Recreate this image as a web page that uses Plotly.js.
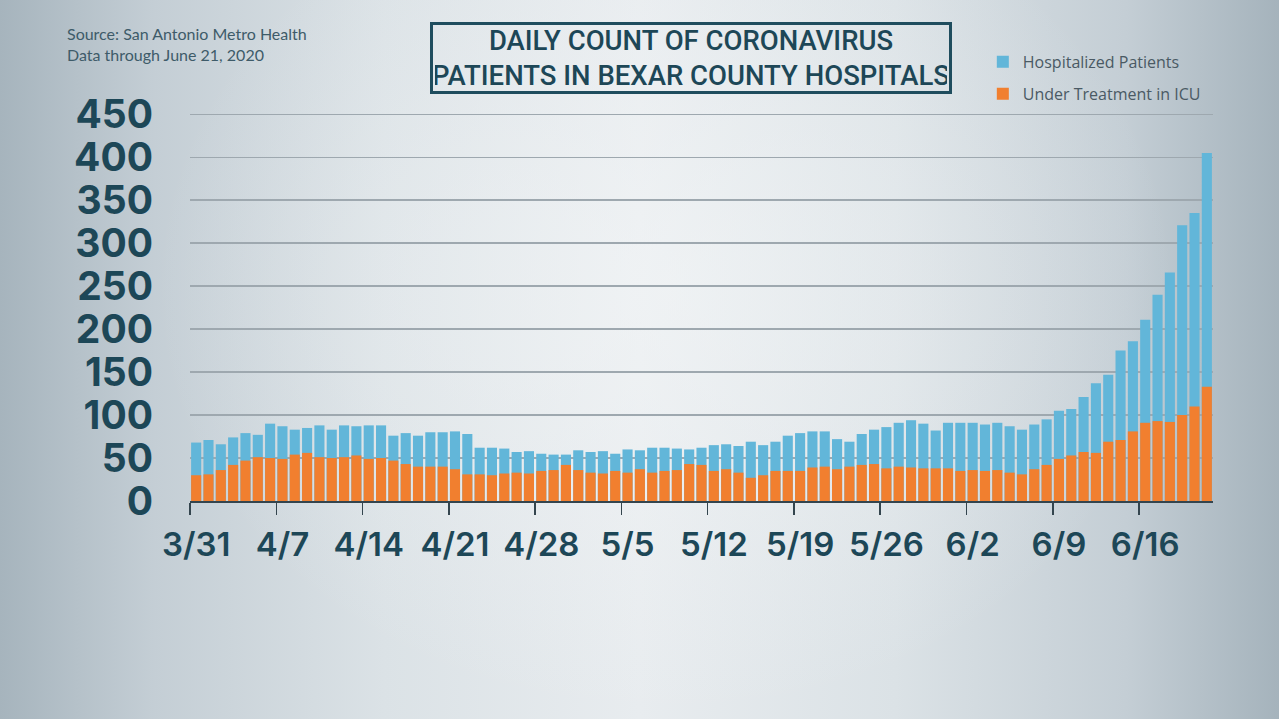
<!DOCTYPE html>
<html>
<head>
<meta charset="utf-8">
<script src="https://cdn.plot.ly/plotly-3.0.1.min.js"></script>
<style>
  html, body { margin:0; padding:0; width:1279px; height:719px; overflow:hidden; }
  body {
    background:
      radial-gradient(ellipse 40% 60% at 52% 40%, rgba(245,247,248,0.55) 0%, rgba(245,247,248,0) 100%),
      linear-gradient(to right, #a6b4bd 0%, #c4ced5 12%, #dbe2e6 30%, #e8ecef 50%, #dbe2e6 70%, #c4ced5 88%, #a5b3bc 100%);
  }
  #chart { width:1279px; height:719px; }
</style>
</head>
<body>
<div id="chart"></div>
<script>
const days = [
  '3/31',
  '4/1','4/2','4/3','4/4','4/5','4/6','4/7','4/8','4/9','4/10',
  '4/11','4/12','4/13','4/14','4/15','4/16','4/17','4/18','4/19','4/20',
  '4/21','4/22','4/23','4/24','4/25','4/26','4/27','4/28','4/29','4/30',
  '5/1','5/2','5/3','5/4','5/5','5/6','5/7','5/8','5/9','5/10',
  '5/11','5/12','5/13','5/14','5/15','5/16','5/17','5/18','5/19','5/20',
  '5/21','5/22','5/23','5/24','5/25','5/26','5/27','5/28','5/29','5/30',
  '5/31',
  '6/1','6/2','6/3','6/4','6/5','6/6','6/7','6/8','6/9','6/10',
  '6/11','6/12','6/13','6/14','6/15','6/16','6/17','6/18','6/19','6/20',
  '6/21'
];

const hospitalized = [
  68, 71, 66, 74, 79, 77, 90, 87, 83, 85,
  88, 83, 88, 87, 88, 88, 76, 79, 76, 80,
  80, 81, 78, 62, 62, 61, 57, 58, 55, 54,
  54, 59, 57, 58, 55, 60, 59, 62, 62, 61,
  60, 62, 65, 66, 64, 69, 65, 69, 76, 79,
  81, 81, 72, 69, 78, 83, 86, 91, 94, 90,
  82, 91, 91, 91, 89, 91, 87, 83, 89, 95,
  105, 107, 121, 137, 147, 175, 186, 211, 240, 266,
  321, 335, 405
];

const icu = [
  30, 31, 36, 42, 47, 51, 50, 49, 54, 56,
  51, 50, 51, 53, 49, 50, 47, 43, 40, 40,
  40, 37, 31, 31, 30, 32, 33, 32, 35, 36,
  42, 36, 33, 32, 35, 33, 37, 33, 35, 36,
  43, 42, 35, 37, 33, 27, 30, 35, 35, 35,
  39, 40, 37, 40, 42, 43, 38, 40, 39, 38,
  38, 38, 35, 36, 35, 36, 33, 31, 37, 42,
  49, 53, 57, 56, 69, 71, 81, 91, 93, 92,
  100, 110, 133
];

const seriesNames = ['Hospitalized Patients', 'Under Treatment in ICU'];
const yTicks = [0, 50, 100, 150, 200, 250, 300, 350, 400, 450];
const titleText = 'DAILY COUNT OF CORONAVIRUS<br>PATIENTS IN BEXAR COUNTY HOSPITALS';
const sourceText = 'Source: San Antonio Metro Health<br>Data through June 21, 2020';

const dark = '#1d4757';

const traces = [
  { type:'bar', x:days, y:hospitalized, name:seriesNames[0], legendgroup:'a',
    marker:{color:'#62b6d9', line:{width:0}}, hoverinfo:'x+y' },
  { type:'bar', x:days, y:icu, name:seriesNames[1], legendgroup:'b',
    marker:{color:'#f17f2f', line:{width:0}}, hoverinfo:'x+y' }
];

const layout = {
  width:1279, height:719,
  paper_bgcolor:'rgba(0,0,0,0)', plot_bgcolor:'rgba(0,0,0,0)',
  margin:{l:190, r:66, t:110, b:218, pad:0},
  barmode:'overlay', bargap:0.18,
  showlegend:true,
  legend:{x:0.775, xanchor:'left', y:1.082, yanchor:'middle', orientation:'v',
    traceorder:'grouped', tracegroupgap:8, bgcolor:'rgba(0,0,0,0)',
    font:{family:'Open Sans', size:16, color:'#4a5a64'}, itemwidth:30},
  xaxis:{
    type:'category', range:[-0.5, days.length - 0.5],
    tickmode:'linear', tick0:0, dtick:7, tickson:'boundaries', tickangle:0,
    ticks:'outside', ticklen:12, tickwidth:1.5, tickcolor:'#34454e',
    showgrid:false, zeroline:false,
    showline:true, linecolor:'#34454e', linewidth:1.5,
    ticklabelstandoff:14,
    tickfont:{family:'Inter', size:33, color:dark, weight:600}
  },
  yaxis:{
    range:[0, 455], tickmode:'array', tickvals:yTicks,
    ticks:'', showgrid:true, gridcolor:'#9ea8af', gridwidth:1.5,
    zeroline:false, showline:false,
    ticklabelstandoff:36,
    tickfont:{family:'Inter', size:39, color:dark, weight:700}
  },
  annotations:[
    { text:titleText, xref:'paper', yref:'paper', x:0.4897, y:1.133,
      xanchor:'center', yanchor:'middle', showarrow:false, align:'center',
      font:{family:'Roboto', size:27.5, color:dark, weight:500},
      bordercolor:'#1f4d5e', borderwidth:3, borderpad:2, width:512, height:62 },
    { text:sourceText, xref:'paper', yref:'paper', x:-0.1222, y:1.1688,
      xanchor:'left', yanchor:'middle', showarrow:false, align:'left',
      font:{family:'Lato', size:16, color:'#3e5b69'} }
  ]
};

Plotly.newPlot('chart', traces, layout, {displayModeBar:false, staticPlot:true});
</script>
</body>
</html>
